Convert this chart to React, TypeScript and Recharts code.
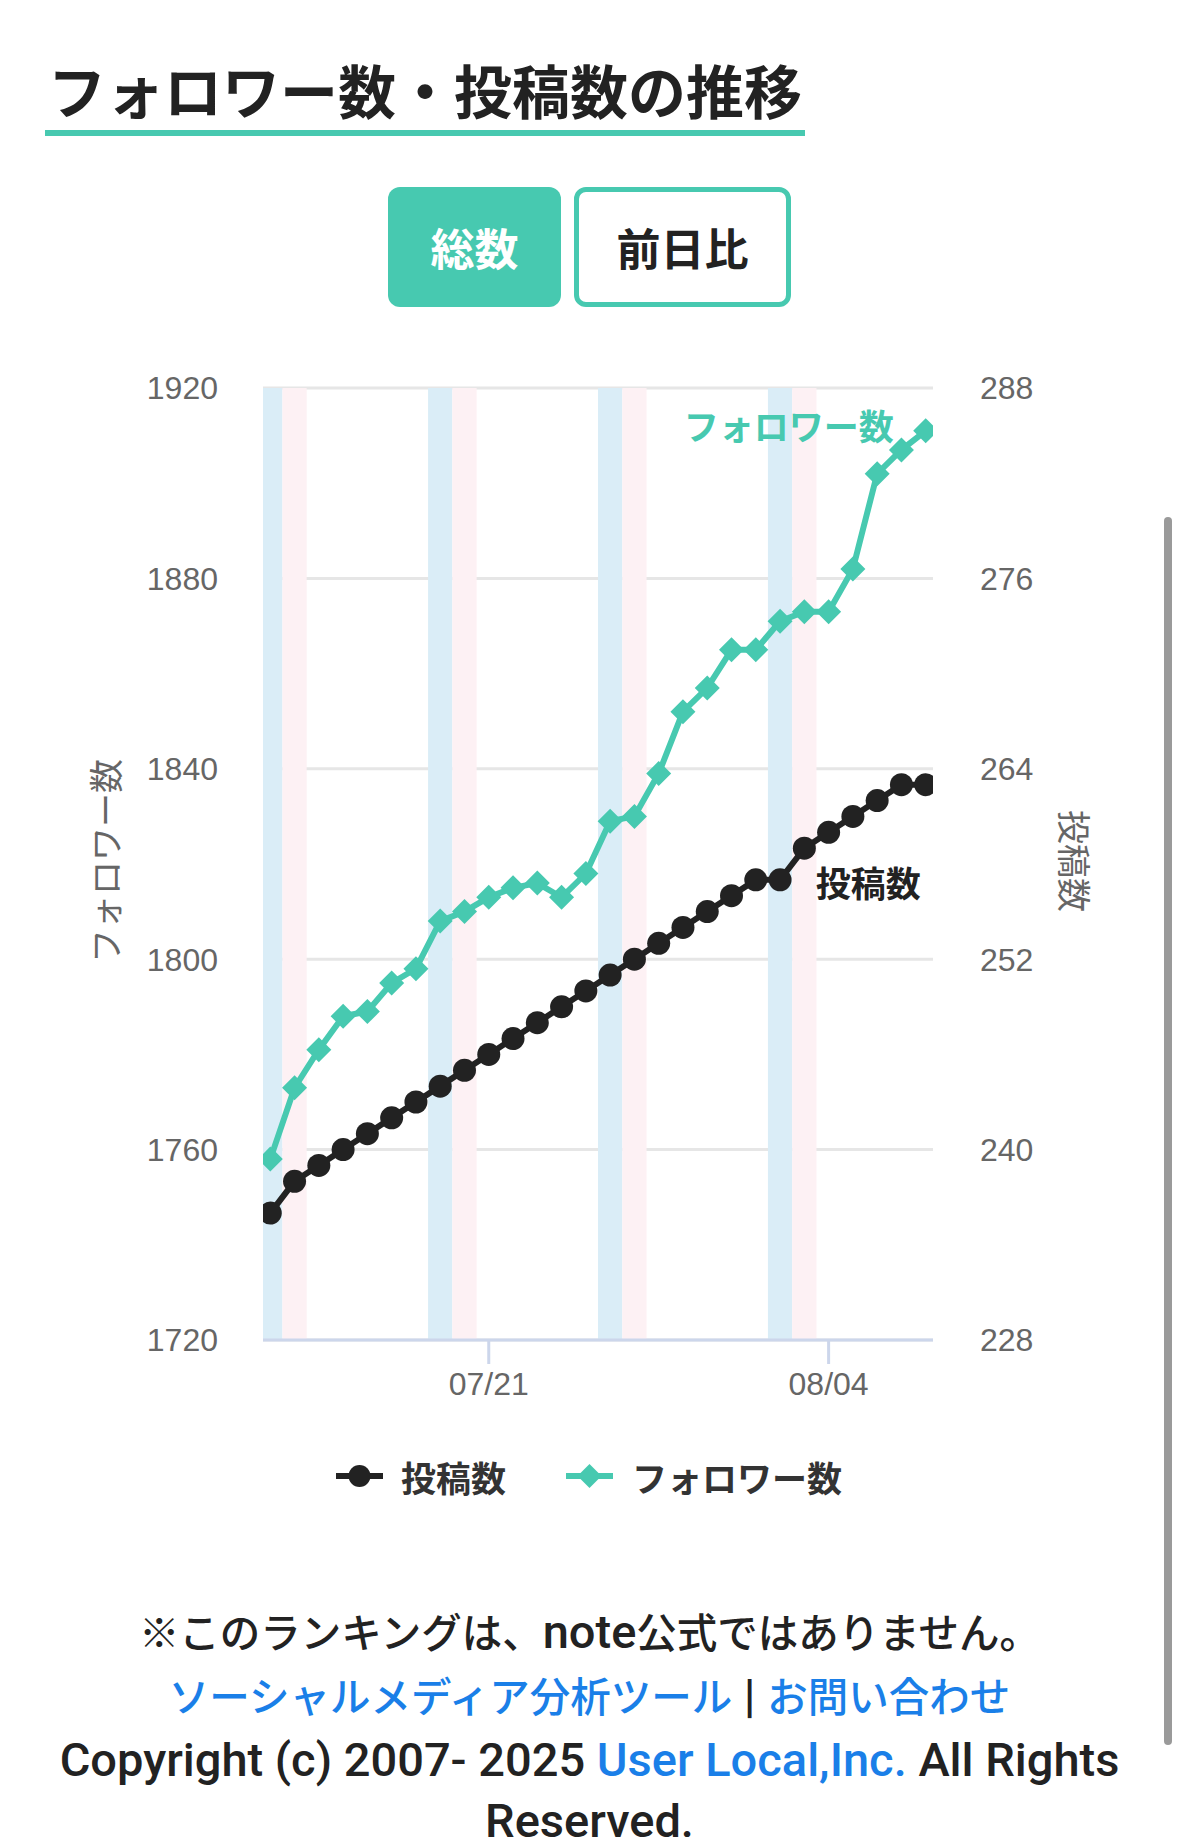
import { LineChart, Line, XAxis, YAxis, CartesianGrid, ReferenceArea, LabelList } from "recharts";

const dates = [
  "07/12", "07/13", "07/14", "07/15", "07/16", "07/17", "07/18",
  "07/19", "07/20", "07/21", "07/22", "07/23", "07/24", "07/25",
  "07/26", "07/27", "07/28", "07/29", "07/30", "07/31", "08/01",
  "08/02", "08/03", "08/04", "08/05", "08/06", "08/07", "08/08",
];

const followers = [
  1758, 1773, 1781, 1788, 1789, 1795, 1798,
  1808, 1810, 1813, 1815, 1816, 1813, 1818,
  1829, 1830, 1839, 1852, 1857, 1865, 1865,
  1871, 1873, 1873, 1882, 1902, 1907, 1911,
];

const posts = [
  236, 238, 239, 240, 241, 242, 243,
  244, 245, 246, 247, 248, 249, 250,
  251, 252, 253, 254, 255, 256, 257,
  257, 259, 260, 261, 262, 263, 263,
];

const xTickLabels = ["07/21", "08/04"];
const saturdays = ["07/12", "07/19", "07/26", "08/02"];
const sundays = ["07/13", "07/20", "07/27", "08/03"];
const followerTicks = [1720, 1760, 1800, 1840, 1880, 1920];
const postTicks = [228, 240, 252, 264, 276, 288];

const TEAL = "#47c9b0";
const INK = "#222222";
const LINK = "#1a7fe8";
const JP = '"Noto Sans CJK JP", sans-serif';
const AXIS_FONT = '"Liberation Sans", Arial, "Noto Sans CJK JP", sans-serif';

const data = dates.map((d, i) => ({ i, date: d, followers: followers[i], posts: posts[i] }));
const lastDate = dates[dates.length - 1];

const Diamond = (props: any) => {
  const { cx, cy } = props;
  if (cx == null || cy == null) return null;
  const r = 12.5;
  return <path d={`M${cx},${cy - r}L${cx + r},${cy}L${cx},${cy + r}L${cx - r},${cy}Z`} fill={TEAL} />;
};

const endLabel = (text: string, color: string, dx: number, dy: number) => (props: any) => {
  const { x, y, value } = props;
  if (value !== lastDate) return null;
  return (
    <text x={x + dx} y={y + dy} textAnchor="end" dominantBaseline="central" fill={color}
      fontSize={35} fontWeight={700} fontFamily={JP}>
      {text}
    </text>
  );
};

const Jp = ({ children, color }: { children: any; color?: string }) => (
  <span style={{ fontSize: 40.5, color }}>{children}</span>
);

const App = () => {
  return (
    <div style={{ position: "relative", width: 1179, height: 1847, background: "#fff", overflow: "hidden" }}>
      <style>{`body{margin:0}`}</style>

      <div style={{ position: "absolute", left: 48, top: 60, fontFamily: JP, fontSize: 58, fontWeight: 700, lineHeight: "58px", color: INK, whiteSpace: "nowrap" }}>
        フォロワー数・投稿数の推移
      </div>
      <div style={{ position: "absolute", left: 45, top: 130, width: 760, height: 6, background: TEAL }} />

      <div style={{ position: "absolute", left: 388, top: 187, width: 173, height: 120, background: TEAL, borderRadius: 12, display: "flex", alignItems: "center", justifyContent: "center", color: "#fff", fontFamily: JP, fontSize: 44, fontWeight: 700 }}>
        総数
      </div>
      <div style={{ position: "absolute", left: 574, top: 187, width: 217, height: 120, boxSizing: "border-box", border: `5px solid ${TEAL}`, borderRadius: 12, display: "flex", alignItems: "center", justifyContent: "center", color: INK, fontFamily: JP, fontSize: 44, fontWeight: 700 }}>
        前日比
      </div>

      <div style={{ position: "absolute", left: 0, top: 340 }}>
        <LineChart width={1179} height={1080} data={data} margin={{ top: 48, right: 0, bottom: 10, left: 0 }}>
          {saturdays.map((d) => (
            <ReferenceArea key={"sat" + d} yAxisId="left" x1={dates.indexOf(d) - 0.5} x2={dates.indexOf(d) + 0.5}
              fill="#daedf7" fillOpacity={1} stroke="none" ifOverflow="hidden" />
          ))}
          {sundays.map((d) => (
            <ReferenceArea key={"sun" + d} yAxisId="left" x1={dates.indexOf(d) - 0.5} x2={dates.indexOf(d) + 0.5}
              fill="#fdf1f4" fillOpacity={1} stroke="none" ifOverflow="hidden" />
          ))}
          <CartesianGrid yAxisId="left" vertical={false} stroke="#e6e6e6" strokeWidth={3} />
          <XAxis
            type="number"
            dataKey="i"
            domain={[-0.3, 27.3]}
            allowDataOverflow
            ticks={xTickLabels.map((t) => dates.indexOf(t))}
            tickFormatter={(v: number) => dates[v]}
            height={70}
            axisLine={{ stroke: "#ccd6eb", strokeWidth: 3 }}
            tickLine={{ stroke: "#ccd6eb", strokeWidth: 3 }}
            tickSize={24}
            tickMargin={8}
            tick={{ fill: "#666", fontSize: 32, fontFamily: AXIS_FONT }}
          />
          <YAxis
            yAxisId="left"
            domain={[1720, 1920]}
            ticks={followerTicks}
            width={263}
            axisLine={false}
            tickLine={false}
            tickSize={0}
            tickMargin={45}
            tick={{ fill: "#666", fontSize: 32, fontFamily: AXIS_FONT }}
          />
          <YAxis
            yAxisId="right"
            orientation="right"
            domain={[228, 288]}
            ticks={postTicks}
            width={246}
            axisLine={false}
            tickLine={false}
            tickSize={0}
            tickMargin={47}
            tick={{ fill: "#666", fontSize: 32, fontFamily: AXIS_FONT }}
          />
          <Line yAxisId="right" dataKey="posts" stroke={INK} strokeWidth={6}
            dot={{ r: 11.5, fill: INK, stroke: "none" }} activeDot={false} isAnimationActive={false}>
            <LabelList dataKey="date" content={endLabel("投稿数", INK, -5, 97)} />
          </Line>
          <Line yAxisId="left" dataKey="followers" stroke={TEAL} strokeWidth={6}
            dot={<Diamond />} activeDot={false} isAnimationActive={false}>
            <LabelList dataKey="date" content={endLabel("フォロワー数", TEAL, -32, -6)} />
          </Line>
        </LineChart>
      </div>

      <div style={{ position: "absolute", left: 104, top: 861, transform: "translate(-50%, -50%) rotate(-90deg)", fontFamily: JP, fontSize: 34, color: "#666", whiteSpace: "nowrap" }}>
        フォロワー数
      </div>
      <div style={{ position: "absolute", left: 1075, top: 861, transform: "translate(-50%, -50%) rotate(90deg)", fontFamily: JP, fontSize: 34, color: "#666", whiteSpace: "nowrap" }}>
        投稿数
      </div>

      <div style={{ position: "absolute", left: 336, top: 1451, height: 50, display: "flex", alignItems: "center", fontFamily: JP, fontSize: 35, fontWeight: 700, color: "#333", whiteSpace: "nowrap" }}>
        <svg width={47} height={30}>
          <line x1={0} y1={15} x2={47} y2={15} stroke={INK} strokeWidth={6} />
          <circle cx={23.5} cy={15} r={11} fill={INK} />
        </svg>
        <span style={{ marginLeft: 18 }}>投稿数</span>
        <svg width={47} height={30} style={{ marginLeft: 60 }}>
          <line x1={0} y1={15} x2={47} y2={15} stroke={TEAL} strokeWidth={6} />
          <path d="M23.5,3L35.5,15L23.5,27L11.5,15Z" fill={TEAL} />
        </svg>
        <span style={{ marginLeft: 19 }}>フォロワー数</span>
      </div>

      <div style={{ position: "absolute", left: 0, top: 1601, width: 1179, textAlign: "center", fontFamily: `Roboto, ${JP}`, fontSize: 47, fontWeight: 500, lineHeight: "62px", color: INK, whiteSpace: "nowrap" }}>
        <div>
          <Jp>※このランキングは、</Jp>note<Jp>公式ではありません。</Jp>
        </div>
        <div>
          <Jp color={LINK}>ソーシャルメディア分析ツール</Jp> | <Jp color={LINK}>お問い合わせ</Jp>
        </div>
        <div>
          Copyright (c) 2007- 2025 <span style={{ color: LINK }}>User Local,Inc.</span> All Rights
        </div>
        <div style={{ lineHeight: "54px", marginTop: 3 }}>Reserved.</div>
      </div>

      <div style={{ position: "absolute", left: 1164, top: 517, width: 8, height: 1228, borderRadius: 4, background: "#9a9a9a" }} />
    </div>
  );
};

export default App;
